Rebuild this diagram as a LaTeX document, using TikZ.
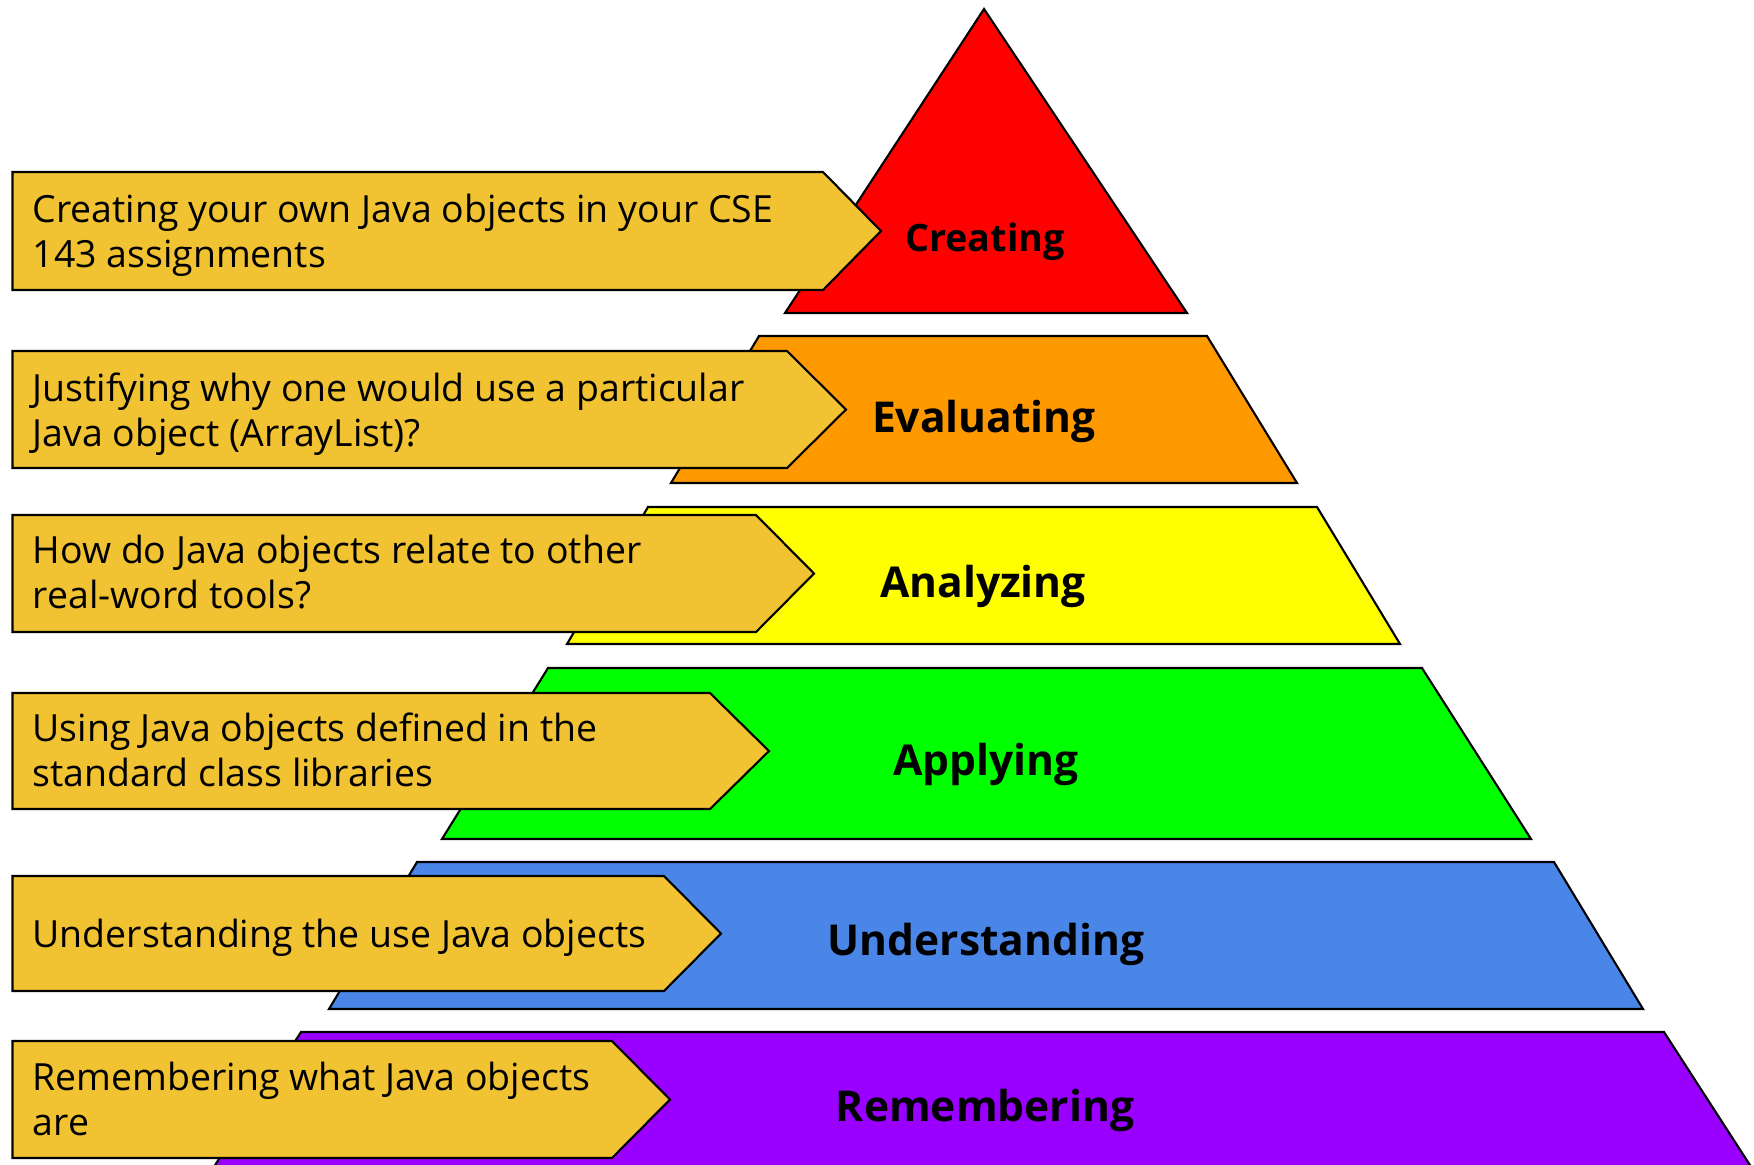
\documentclass[tikz,border=0pt]{standalone}
\usepackage{fontspec}
\setmainfont{Open Sans}
\usepackage{tikz}

\definecolor{tierred}{HTML}{FF0000}
\definecolor{tierorange}{HTML}{FF9900}
\definecolor{tieryellow}{HTML}{FFFF00}
\definecolor{tiergreen}{HTML}{00FF00}
\definecolor{tierblue}{HTML}{4A86E8}
\definecolor{tierpurple}{HTML}{9900FF}
\definecolor{notegold}{HTML}{F1C232}

\tikzset{tier/.style={draw=black, line width=0.6pt, fill=#1},
	note/.style={draw=black, line width=0.6pt, fill=notegold},
	notetext/.style={anchor=west, align=left, inner sep=0pt, font=\fontsize{10.65}{12.8}\selectfont},
	tierlabel/.style={anchor=base, inner sep=0pt, font=\fontsize{12.1}{14}\selectfont\bfseries}}

\begin{document}
\begin{tikzpicture}[x=0.1mm, y=-0.1mm]
	\clip (0, 0) rectangle (1754, 1164);
	\fill[white] (0, 0) rectangle (1754, 1164);
	% the six levels, top to bottom
	\draw[tier=tierred] (984, 9) -- (1187, 313) -- (785, 313) -- cycle;
	\draw[tier=tierorange] (759, 336) -- (1207, 336) -- (1297, 483) -- (671, 483) -- cycle;
	\draw[tier=tieryellow] (648, 507) -- (1317, 507) -- (1400, 644) -- (567, 644) -- cycle;
	\draw[tier=tiergreen] (548, 668) -- (1422, 668) -- (1531, 839) -- (442, 839) -- cycle;
	\draw[tier=tierblue] (417, 862) -- (1554, 862) -- (1643, 1009) -- (329, 1009) -- cycle;
	\draw[tier=tierpurple] (301, 1032) -- (1664, 1032) -- (1757, 1176) -- (208, 1176) -- cycle;

	\node[tierlabel, font=\fontsize{10.75}{12}\selectfont\bfseries] (creating) at (985, 251) {Creating};
	\node[tierlabel] (evaluating) at (984, 432) {Evaluating};
	\node[tierlabel] (analyzing) at (983, 597) {Analyzing};
	\node[tierlabel] (applying) at (986, 775) {Applying};
	\node[tierlabel] (understanding) at (986, 955) {Understanding};
	\node[tierlabel] (remembering) at (985, 1121) {Remembering};

	% pointers on the left
	\draw[note] (12.5, 172) -- (823, 172) -- (881, 231) -- (823, 290) -- (12.5, 290) -- cycle;
	\node[notetext] (creating-note) at (32, 235.5)
		{Creating your own Java objects in your CSE\\143 assignments};
	\draw[note] (12.5, 351) -- (787, 351) -- (846, 409.5) -- (787, 468) -- (12.5, 468) -- cycle;
	\node[notetext] (evaluating-note) at (32, 414)
		{Justifying why one would use a particular\\Java object (ArrayList)?};
	\draw[note] (12.5, 515) -- (756, 515) -- (814, 573.5) -- (756, 632) -- (12.5, 632) -- cycle;
	\node[notetext] (analyzing-note) at (32, 572.5)
		{How do Java objects relate to other\\real-word tools?};
	\draw[note] (12.5, 693) -- (710, 693) -- (769, 751) -- (710, 809) -- (12.5, 809) -- cycle;
	\node[notetext] (applying-note) at (32, 750)
		{Using Java objects defined in the\\standard class libraries};
	\draw[note] (12.5, 876) -- (664, 876) -- (721, 933.5) -- (664, 991) -- (12.5, 991) -- cycle;
	\node[notetext] (understanding-note) at (32, 938)
		{Understanding the use Java objects};
	\draw[note] (12.5, 1041) -- (612, 1041) -- (670, 1099.5) -- (612, 1158) -- (12.5, 1158) -- cycle;
	\node[notetext] (remembering-note) at (32, 1099)
		{Remembering what Java objects\\are};
\end{tikzpicture}
\end{document}
